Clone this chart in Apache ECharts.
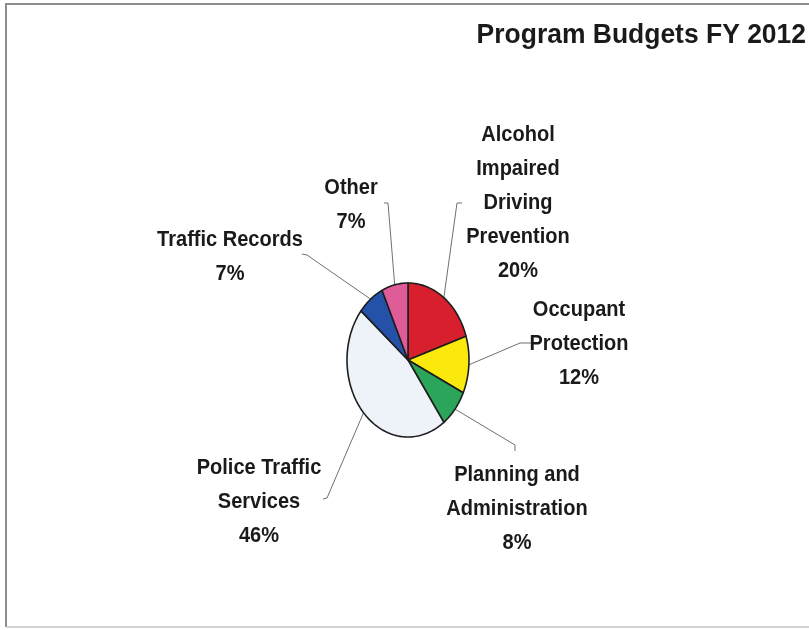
<!DOCTYPE html>
<html>
<head>
<meta charset="utf-8">
<script src="https://cdn.jsdelivr.net/npm/echarts@6/dist/echarts.min.js"></script>
<style>
  html, body { margin: 0; padding: 0; background: #fff; }
  #chart { width: 809px; height: 630px; }
</style>
</head>
<body>
<div id="chart"></div>
<script>
// Program budget shares, clockwise from 12 o'clock
const categories = [
  'Alcohol\nImpaired\nDriving\nPrevention',
  'Occupant\nProtection',
  'Planning and\nAdministration',
  'Police Traffic\nServices',
  'Traffic Records',
  'Other'
];
const shares = [20, 12, 8, 46, 7, 7];
const sliceColors = ['#d81f2e', '#fbe80c', '#2aa55a', '#eef3f9', '#2352a8', '#e05c98'];

// Label anchors (centre of first text line) and leader-line elbows
const labelAnchors = [[518, 135], [579, 310], [517, 475], [259, 468], [230, 240], [351, 188]];
const leaderElbows = [
  [[457, 203], [462, 203]],
  [[520, 343], [532, 343]],
  [[515, 445], [515, 451]],
  [[327, 498], [323, 499]],
  [[307, 255], [302, 254]],
  [[388, 203], [384, 203]]
];

const pie = { cx: 408, cy: 360, rx: 61, ry: 77 };
const FONT = '"Liberation Sans", Arial, sans-serif';
const NARROW = 0.91;   // horizontal squeeze applied to label text
const total = shares.reduce((a, b) => a + b, 0);

function ellipsePoint(frac) {
  // frac 0 = top, increasing clockwise
  const a = frac * Math.PI * 2;
  return [pie.cx + pie.rx * Math.sin(a), pie.cy - pie.ry * Math.cos(a)];
}

function renderItem(params, api) {
  const i = params.dataIndex;
  const value = api.value(0);
  let before = 0;
  for (let k = 0; k < i; k++) before += shares[k];
  const f0 = before / total;
  const f1 = (before + value) / total;
  const pts = [[pie.cx, pie.cy]];
  const steps = Math.max(8, Math.ceil((f1 - f0) * 240));
  for (let s = 0; s <= steps; s++) pts.push(ellipsePoint(f0 + (f1 - f0) * s / steps));

  const mid = ellipsePoint((f0 + f1) / 2);
  const leader = [mid].concat(leaderElbows[i]);
  const lh = 34;
  const anchor = labelAnchors[i];
  const pct = Math.round(value / total * 100) + '%';

  return {
    type: 'group',
    children: [
      {
        type: 'polyline',
        shape: { points: leader },
        style: { stroke: '#707070', lineWidth: 1, fill: null },
        z2: 1
      },
      {
        type: 'polygon',
        shape: { points: pts },
        style: { fill: sliceColors[i], stroke: '#1e1e1e', lineWidth: 1.6, lineJoin: 'round' },
        z2: 2
      },
      {
        type: 'text',
        x: anchor[0],
        y: anchor[1] - lh / 2,
        scaleX: NARROW,
        style: {
          text: categories[i] + '\n' + pct,
          x: 0,
          y: 0,
          align: 'center',
          verticalAlign: 'top',
          lineHeight: lh,
          fill: '#1a1a1a',
          font: 'bold 22px ' + FONT
        },
        z2: 3
      }
    ]
  };
}

const chart = echarts.init(document.getElementById('chart'), null, { renderer: 'canvas' });
chart.setOption({
  backgroundColor: '#ffffff',
  animation: false,
  graphic: [
    { type: 'line', shape: { x1: 5, y1: 4, x2: 809, y2: 4 }, style: { stroke: '#8c8c8c', lineWidth: 2 } },
    { type: 'line', shape: { x1: 6, y1: 4, x2: 6, y2: 627 }, style: { stroke: '#8c8c8c', lineWidth: 2 } },
    { type: 'line', shape: { x1: 6, y1: 627, x2: 809, y2: 627 }, style: { stroke: '#c4c4c4', lineWidth: 1.5 } },
    {
      type: 'text',
      x: 806,
      y: 35,
      scaleX: 0.945,
      style: {
        text: 'Program Budgets FY 2012',
        x: 0,
        y: 0,
        align: 'right',
        verticalAlign: 'middle',
        fill: '#1a1a1a',
        font: 'bold 28px ' + FONT
      }
    }
  ],
  series: [{
    type: 'custom',
    coordinateSystem: 'none',
    renderItem: renderItem,
    data: shares.map(v => [v])
  }]
});
</script>
</body>
</html>
